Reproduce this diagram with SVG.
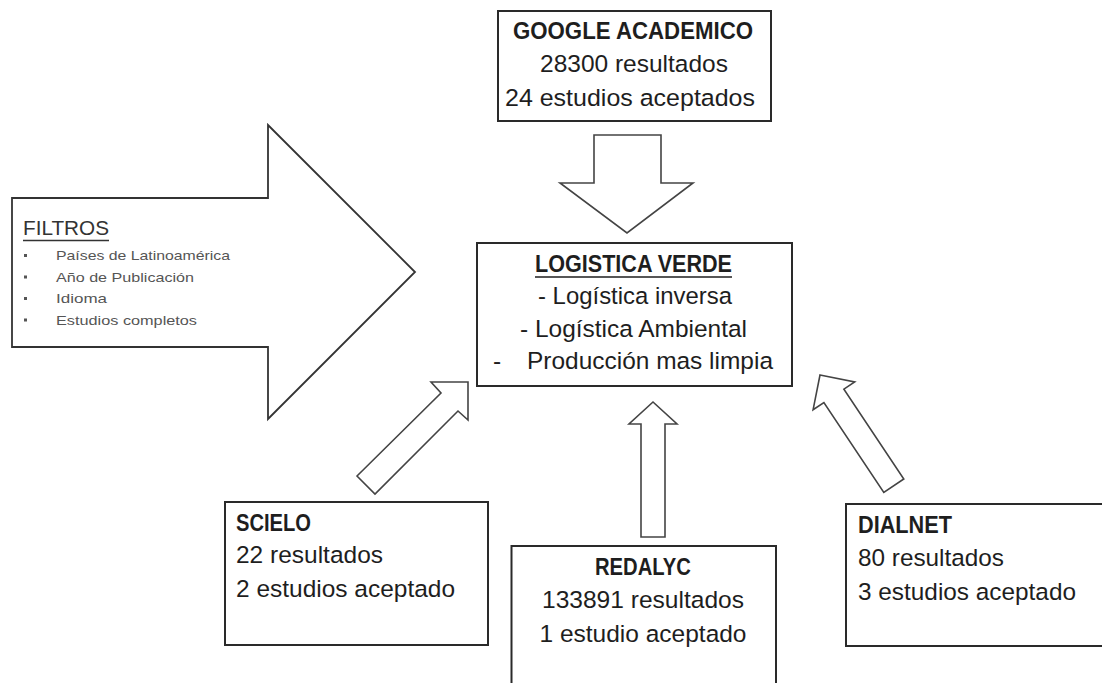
<svg xmlns="http://www.w3.org/2000/svg" width="1102" height="683" viewBox="0 0 1102 683">
<style>
.box{fill:#fff;stroke:#2a2a2a;stroke-width:2}
.arr{fill:#fff;stroke:#444;stroke-width:1.6;stroke-linejoin:miter}
text{font-family:"Liberation Sans",Arial,sans-serif;fill:#1e1e1e}
.t{font-size:24.5px}
.b{font-size:23.5px;font-weight:bold}
.m{text-anchor:middle}
.s{font-size:13.5px;fill:#555}
.ul{stroke:#1e1e1e;stroke-width:1.5}
.bul{fill:#555}
</style>
<rect width="1102" height="683" fill="#fff"/>
<g id="connectors">
  <polygon class="arr" points="594,135 661,135 661,183 693,183 627,233 560,183 594,183"/>
  <polygon class="arr" points="357,476 441,393 431,382 468,382 468,420 458,411 375,494"/>
  <polygon class="arr" points="653,402 677,424 665,424 665,537 641,537 641,424 629,424"/>
  <polygon class="arr" points="820,375 854.7,381.9 843.9,389.1 903.8,479 883.8,492.4 823.9,402.5 813.1,409.7"/>
</g>
<g id="filtros">
  <polygon class="arr" points="12,198 268,198 268,125 415,272 268,419 268,347 12,347" style="stroke:#333;stroke-width:1.8"/>
  <text x="23" y="235" style="font-size:21px;fill:#333" textLength="86" lengthAdjust="spacingAndGlyphs">FILTROS</text>
  <line class="ul" x1="23" y1="240.5" x2="109" y2="240.5" style="stroke:#333"/>
  <rect class="bul" x="24" y="254" width="3" height="3"/>
  <rect class="bul" x="24" y="275.5" width="3" height="3"/>
  <rect class="bul" x="24" y="297" width="3" height="3"/>
  <rect class="bul" x="24" y="318.5" width="3" height="3"/>
  <text class="s" x="56" y="260" textLength="174" lengthAdjust="spacingAndGlyphs">Países de Latinoamérica</text>
  <text class="s" x="56" y="281.5" textLength="138" lengthAdjust="spacingAndGlyphs">Año de Publicación</text>
  <text class="s" x="56" y="303" textLength="51" lengthAdjust="spacingAndGlyphs">Idioma</text>
  <text class="s" x="56" y="324.5" textLength="141" lengthAdjust="spacingAndGlyphs">Estudios completos</text>
</g>
<g id="google">
  <rect class="box" x="498" y="11" width="273" height="110"/>
  <text class="b m" x="633" y="39" textLength="240" lengthAdjust="spacingAndGlyphs">GOOGLE ACADEMICO</text>
  <text class="t m" x="634" y="72" textLength="188" lengthAdjust="spacingAndGlyphs">28300 resultados</text>
  <text class="t m" x="630" y="106" textLength="250" lengthAdjust="spacingAndGlyphs">24 estudios aceptados</text>
</g>
<g id="logistica">
  <rect class="box" x="477" y="243" width="315" height="143"/>
  <text class="b" x="535" y="272" textLength="197" lengthAdjust="spacingAndGlyphs">LOGISTICA VERDE</text>
  <line class="ul" x1="535" y1="277" x2="732" y2="277"/>
  <text class="t" x="538" y="304" textLength="194" lengthAdjust="spacingAndGlyphs">- Logística inversa</text>
  <text class="t" x="520" y="337" textLength="227" lengthAdjust="spacingAndGlyphs">- Logística Ambiental</text>
  <text class="t" x="493" y="369">-</text>
  <text class="t" x="527" y="369" textLength="246" lengthAdjust="spacingAndGlyphs">Producción mas limpia</text>
</g>
<g id="scielo">
  <rect class="box" x="225" y="502" width="263" height="143"/>
  <text class="b" x="236" y="531" textLength="75" lengthAdjust="spacingAndGlyphs">SCIELO</text>
  <text class="t" x="236" y="563" textLength="147" lengthAdjust="spacingAndGlyphs">22 resultados</text>
  <text class="t" x="236" y="597" textLength="219" lengthAdjust="spacingAndGlyphs">2 estudios aceptado</text>
</g>
<g id="redalyc">
  <rect class="box" x="511.5" y="546" width="264.5" height="150"/>
  <text class="b m" x="643" y="575" textLength="96" lengthAdjust="spacingAndGlyphs">REDALYC</text>
  <text class="t m" x="643" y="608" textLength="202" lengthAdjust="spacingAndGlyphs">133891 resultados</text>
  <text class="t m" x="643" y="642" textLength="207" lengthAdjust="spacingAndGlyphs">1 estudio aceptado</text>
</g>
<g id="dialnet">
  <rect class="box" x="846" y="504" width="270" height="142"/>
  <text class="b" x="858" y="533" textLength="94" lengthAdjust="spacingAndGlyphs">DIALNET</text>
  <text class="t" x="858" y="566" textLength="146" lengthAdjust="spacingAndGlyphs">80 resultados</text>
  <text class="t" x="858" y="600" textLength="218" lengthAdjust="spacingAndGlyphs">3 estudios aceptado</text>
</g>
</svg>
